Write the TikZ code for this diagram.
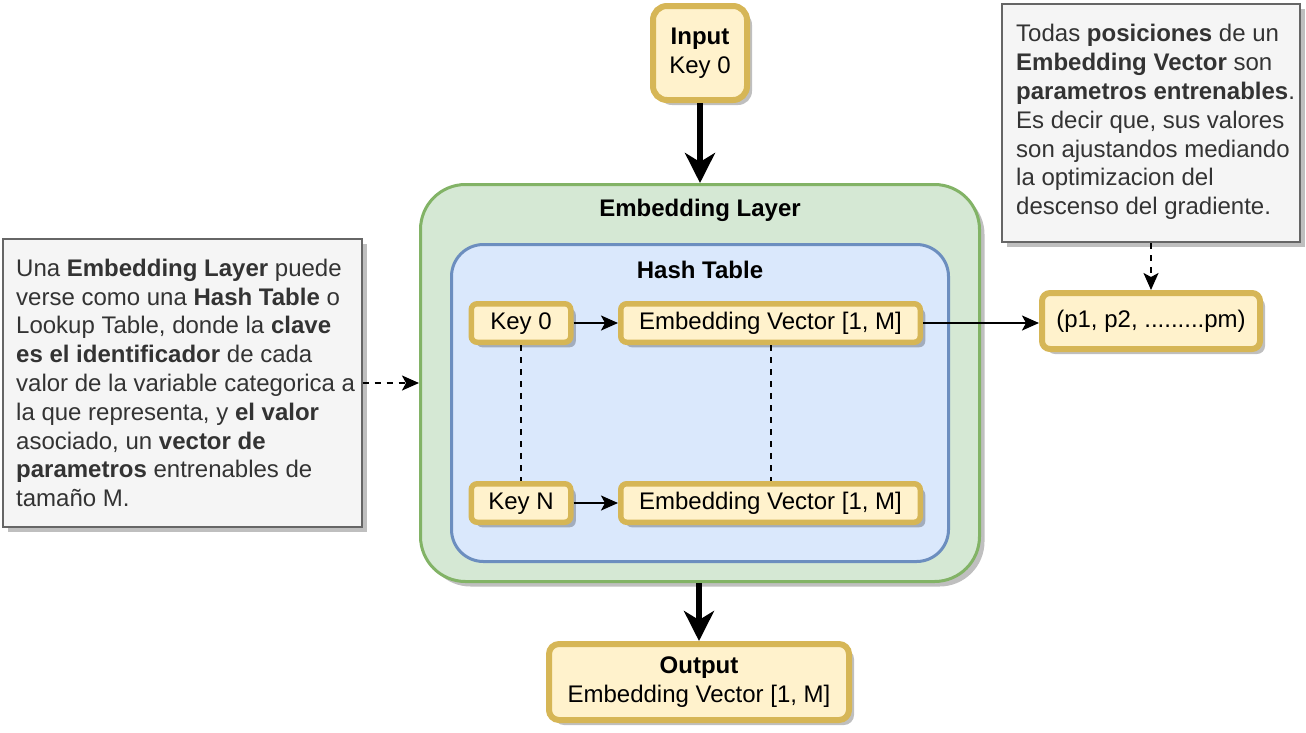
\documentclass[tikz,border=0pt]{standalone}
\usepackage{fontspec}
\setmainfont{Liberation Sans}
\usetikzlibrary{arrows.meta,shadows}
\definecolor{yfill}{HTML}{FFF2CC}
\definecolor{ystroke}{HTML}{D6B656}
\definecolor{gfill}{HTML}{D5E8D4}
\definecolor{gstroke}{HTML}{82B366}
\definecolor{bfill}{HTML}{DAE8FC}
\definecolor{bstroke}{HTML}{6C8EBF}
\definecolor{nfill}{HTML}{F5F5F5}
\definecolor{nstroke}{HTML}{666666}
\definecolor{ntext}{HTML}{333333}
\tikzset{
  shadowed/.style={drop shadow={shadow xshift=5pt, shadow yshift=-5pt, opacity=0.25, fill=black}},
  ybox/.style={shadowed, draw=ystroke, fill=yfill, line width=5.5pt, rounded corners=6pt, inner sep=0pt, text height=17pt, text depth=5pt},
  bigbox/.style={shadowed, draw=ystroke, fill=yfill, line width=6pt, inner sep=0pt, align=center},
  notebox/.style={shadowed, draw=nstroke, fill=nfill, line width=2pt, inner sep=0pt},
  notetext/.style={text=ntext, align=left, inner sep=0pt, anchor=west},
  title/.style={font=\fontsize{24}{28.8}\selectfont\bfseries, inner sep=0pt},
  bigarrow/.style={line width=6pt, -{Stealth[length=30pt,width=30pt,inset=9pt]}},
  smallarrow/.style={line width=2pt, -{Stealth[length=17pt,width=15pt,inset=4pt]}},
  dasharrow/.style={smallarrow, dash pattern=on 6pt off 6pt},
  dashline/.style={line width=2pt, dash pattern=on 6pt off 6pt},
}
\begin{document}
\begin{tikzpicture}[x=1pt,y=-1pt,font=\fontsize{24}{28.8}\selectfont]
\useasboundingbox (0,0) rectangle (1306,732);
% containers
\node[shadowed, draw=gstroke, fill=gfill, line width=3pt, rounded corners=45pt,
      minimum width=559pt, minimum height=397pt] (emb) at (700,383) {};
\node[title] (embT) at (700,210) {Embedding Layer};
\node[draw=bstroke, fill=bfill, line width=3pt, rounded corners=32pt,
      minimum width=497pt, minimum height=317pt] (hash) at (700,403) {};
\node[title] (hashT) at (700,270) {Hash Table};
% inner boxes
\node[ybox, minimum width=99.5pt, minimum height=38.5pt] (key0) at (521,323) {Key 0};
\node[ybox, minimum width=299.5pt, minimum height=38.5pt] (ev0) at (770.5,323) {Embedding Vector [1, M]};
\node[ybox, minimum width=99.5pt, minimum height=38.5pt] (keyN) at (521,503) {Key N};
\node[ybox, minimum width=299.5pt, minimum height=38.5pt] (evN) at (770.5,503) {Embedding Vector [1, M]};
% input / output
\node[bigbox, rounded corners=14pt, minimum width=94pt, minimum height=94pt] (input) at (700,53) {\textbf{Input}\\Key 0};
\node[bigbox, rounded corners=10pt, minimum width=300pt, minimum height=76pt] (output) at (699,682) {\textbf{Output}\\Embedding Vector [1, M]};
\node[bigbox, rounded corners=8pt, minimum width=218pt, minimum height=56pt] (pbox) at (1151,321) {(p1, p2, .........pm)};
% notes
\node[notebox, minimum width=359pt, minimum height=288pt] (lnote) at (182,383) {};
\node[notetext] (lnoteT) at (16,383) {%
Una \textbf{Embedding Layer} puede\\
verse como una \textbf{Hash Table} o\\
Lookup Table, donde la \textbf{clave}\\
\textbf{es el identificador} de cada\\
valor de la variable categorica a\\
la que representa, y \textbf{el valor}\\
asociado, un \textbf{vector de}\\
\textbf{parametros} entrenables de\\
tamaño M.};
\node[notebox, minimum width=298pt, minimum height=238pt] (rnote) at (1151,123) {};
\node[notetext] (rnoteT) at (1016,122) {%
Todas \textbf{posiciones} de un\\
\textbf{Embedding Vector} son\\
\textbf{parametros entrenables}.\\
Es decir que, sus valores\\
son ajustandos mediando\\
la optimizacion del\\
descenso del gradiente.};
% connectors
\draw[bigarrow] (input.south) -- (emb.north);
\draw[bigarrow] (emb.south -| output.north) -- (output.north);
\draw[smallarrow] (key0.east) -- (ev0.west);
\draw[smallarrow] (keyN.east) -- (evN.west);
\draw[smallarrow] (ev0.east) -- (pbox.west |- ev0.east);
\draw[dashline] (key0.south) -- (keyN.north);
\draw[dashline] (ev0.south) -- (evN.north);
\draw[dasharrow] (lnote.east) -- (emb.west);
\draw[dasharrow] (rnote.south) -- (pbox.north);
\end{tikzpicture}
\end{document}
